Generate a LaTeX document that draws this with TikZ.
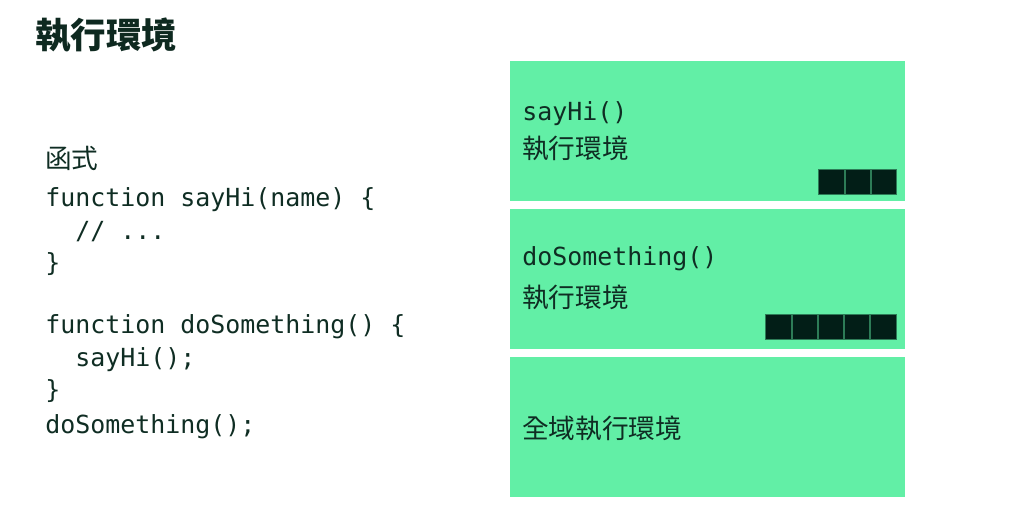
\documentclass[tikz,border=0pt]{standalone}
\usepackage{fontspec}
\newfontfamily\cjk{Noto Sans CJK TC}
\newfontfamily\codefont{DejaVu Sans Mono}
\usetikzlibrary{positioning}

\definecolor{envgreen}{HTML}{62EFA6}
\definecolor{inkgreen}{HTML}{0F2D23}
\definecolor{blockgreen}{HTML}{021E17}

\begin{document}
\begin{tikzpicture}[
  x=0.75pt,
  y=-0.75pt,
  envbox/.style={
    fill=envgreen,
    draw=none,
    minimum width=296.25pt,
    minimum height=105pt,
    inner sep=0pt
  },
  code/.style={
    anchor=base west,
    inner sep=0pt,
    text=inkgreen,
    font=\codefont\fontsize{18.7pt}{22pt}\selectfont
  },
  cjktext/.style={
    anchor=west,
    inner sep=0pt,
    text=inkgreen,
    font=\cjk\fontsize{20pt}{24pt}\selectfont
  },
  block/.style={
    fill=blockgreen,
    draw=blockgreen!55!envgreen,
    line width=0.4pt
  }
]

  % 頁面範圍
  \path[use as bounding box]
    (0,0) rectangle (1024,521);

  % 標題
  \node[
    anchor=west,
    inner sep=0pt,
    text=inkgreen!90!black,
    font=\cjk\bfseries\fontsize{26.6pt}{30pt}\selectfont
  ] (title) at (35,35) {執行環境};

  % 左側程式碼
  \node[cjktext] (fnlabel) at (45,158) {函式};

  \node[code] (line1) at (45,206) {function sayHi(name) \{};
  \node[code] (line2) at (45,239) {\phantom{aa}// ...};
  \node[code] (line3) at (45,271) {\}};
  \node[code] (line4) at (45,333) {function doSomething() \{};
  \node[code] (line5) at (45,366) {\phantom{aa}sayHi();};
  \node[code] (line6) at (45,398) {\}};
  \node[code] (line7) at (45,433) {doSomething();};

  % 執行環境堆疊
  \node[envbox] (sayhibox) at (707.5,131) {};
  \node[envbox] (dobox) at (707.5,278.5) {};
  \node[envbox] (globalbox) at (707.5,426.5) {};

  % sayHi() 執行環境
  \node[code,anchor=west] (sayhiname) at (522,114) {sayHi()};
  \node[cjktext] (sayhienv) at (522,148) {執行環境};

  \foreach \i in {0,1,2}
    \filldraw[block]
      ({818.5+\i*26.3},169) rectangle +(25.3,25.5);

  % doSomething() 執行環境
  \node[code,anchor=west] (doname) at (522,259) {doSomething()};
  \node[cjktext] (doenv) at (522,297) {執行環境};

  \foreach \i in {0,...,4}
    \filldraw[block]
      ({765.5+\i*26.3},314) rectangle +(25.3,25.5);

  % 全域執行環境
  \node[cjktext] (globalenv) at (522,428) {全域執行環境};

\end{tikzpicture}
\end{document}
